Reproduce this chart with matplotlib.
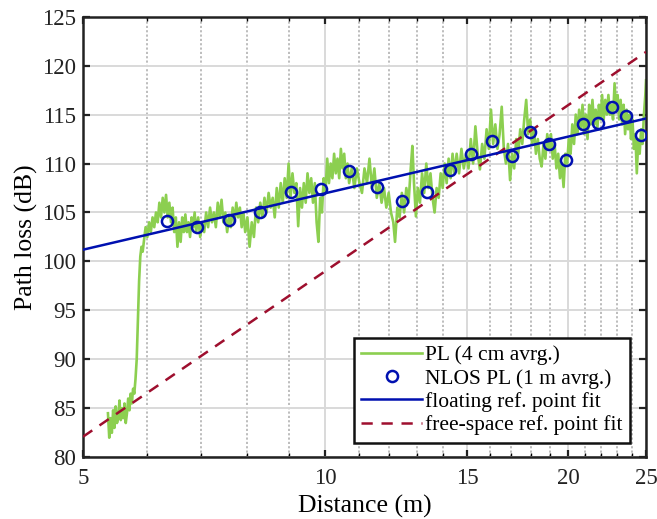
import matplotlib.pyplot as plt
from matplotlib.ticker import FixedLocator, NullFormatter, FixedFormatter

plt.rcParams["font.family"] = ["Liberation Serif", "DejaVu Serif"]

# PL with 4 cm averaging
pl_dist = [
    5.37, 5.39, 5.41, 5.43, 5.45, 5.47, 5.49, 5.51, 5.53, 5.55, 5.57, 5.59, 5.61, 5.63,
    5.65, 5.67, 5.69, 5.71, 5.73, 5.75, 5.77, 5.79, 5.81, 5.83, 5.85, 5.87, 5.89, 5.91,
    5.93, 5.95, 5.98, 6.01, 6.04, 6.07, 6.10, 6.13, 6.16, 6.19, 6.22, 6.25, 6.28, 6.31,
    6.34, 6.37, 6.40, 6.43, 6.46, 6.49, 6.52, 6.55, 6.58, 6.61, 6.64, 6.67, 6.70, 6.73,
    6.76, 6.79, 6.82, 6.85, 6.88, 6.91, 6.95, 6.99, 7.03, 7.07, 7.11, 7.15, 7.19, 7.23,
    7.27, 7.31, 7.35, 7.39, 7.43, 7.47, 7.51, 7.55, 7.59, 7.63, 7.67, 7.71, 7.75, 7.79,
    7.83, 7.87, 7.91, 7.95, 8.00, 8.05, 8.10, 8.15, 8.20, 8.25, 8.30, 8.35, 8.40, 8.45,
    8.50, 8.55, 8.60, 8.65, 8.70, 8.75, 8.80, 8.85, 8.90, 8.95, 9.00, 9.05, 9.10, 9.15,
    9.20, 9.25, 9.30, 9.35, 9.40, 9.45, 9.50, 9.55, 9.60, 9.65, 9.70, 9.75, 9.80, 9.85,
    9.90, 9.95, 10.00, 10.05, 10.10, 10.15, 10.20, 10.25, 10.30, 10.35, 10.40, 10.45,
    10.50, 10.55, 10.60, 10.65, 10.70, 10.78, 10.86, 10.94, 11.02, 11.10, 11.18, 11.26,
    11.34, 11.42, 11.50, 11.58, 11.66, 11.74, 11.82, 11.90, 11.98, 12.06, 12.14, 12.20,
    12.28, 12.36, 12.44, 12.52, 12.60, 12.68, 12.76, 12.82, 12.88, 12.95, 13.02, 13.10,
    13.18, 13.26, 13.34, 13.42, 13.50, 13.58, 13.66, 13.74, 13.82, 13.90, 13.98, 14.06,
    14.14, 14.22, 14.30, 14.38, 14.46, 14.55, 14.65, 14.75, 14.85, 14.95, 15.05, 15.15,
    15.25, 15.35, 15.45, 15.55, 15.65, 15.75, 15.85, 15.95, 16.05, 16.15, 16.25, 16.35,
    16.45, 16.55, 16.65, 16.75, 16.85, 16.95, 17.05, 17.15, 17.25, 17.35, 17.45, 17.55,
    17.65, 17.75, 17.85, 17.95, 18.05, 18.15, 18.25, 18.35, 18.45, 18.55, 18.65, 18.75,
    18.85, 18.95, 19.05, 19.15, 19.25, 19.35, 19.45, 19.55, 19.65, 19.75, 19.85, 19.95,
    20.05, 20.15, 20.25, 20.35, 20.45, 20.55, 20.65, 20.75, 20.85, 20.95, 21.05, 21.15,
    21.25, 21.35, 21.45, 21.55, 21.65, 21.75, 21.85, 21.95, 22.05, 22.15, 22.25, 22.35,
    22.45, 22.55, 22.65, 22.75, 22.85, 22.95, 23.05, 23.15, 23.25, 23.35, 23.45, 23.55,
    23.65, 23.75, 23.85, 23.95, 24.05, 24.15, 24.25, 24.35, 24.45, 24.55, 24.65, 24.75,
    24.85, 24.95, 25.00,
]
pl_4cm = [
    84.5, 82.0, 84.0, 82.5, 84.8, 83.0, 85.2, 83.5, 84.0, 85.8, 83.8, 85.0, 84.0, 85.5,
    83.5, 84.5, 86.0, 84.8, 86.5, 85.5, 87.0, 86.5, 88.0, 90.0, 94.0, 98.0, 100.5, 101.5,
    101.0, 102.0, 103.5, 102.5, 104.0, 103.0, 104.5, 103.5, 105.0, 104.0, 106.0, 104.5, 106.5, 105.0,
    106.8, 104.5, 106.0, 104.0, 105.5, 103.0, 104.5, 101.5, 104.0, 102.0, 104.5, 103.0, 104.8, 103.0,
    104.0, 102.5, 104.5, 103.5, 105.0, 103.0, 104.5, 102.5, 104.0, 103.0, 105.0, 103.5, 105.5, 104.0,
    105.0, 103.5, 106.0, 104.5, 106.3, 104.0, 105.0, 103.0, 104.5, 103.5, 105.5, 104.0, 106.0, 104.5,
    105.5, 103.5, 105.0, 103.0, 104.5, 101.5, 104.0, 102.5, 105.5, 104.0, 106.0, 104.5, 106.5, 105.0,
    107.0, 105.5, 106.5, 104.5, 107.5, 105.5, 108.0, 106.0, 108.5, 106.5, 110.0, 106.5, 109.0, 107.0,
    108.0, 103.6, 107.5, 105.5, 108.0, 106.0, 109.0, 107.0, 108.5, 106.0, 108.0, 104.0, 102.0, 106.5,
    105.0, 108.5, 107.0, 110.5, 108.0, 110.0, 108.5, 111.0, 109.0, 110.5, 108.5, 111.5,
    109.5, 111.0, 108.5, 110.0, 108.0, 109.5, 107.5, 109.5, 108.0, 107.0, 109.5, 108.0,
    110.5, 107.5, 109.5, 106.5, 108.0, 106.0, 107.5, 105.5, 107.0, 105.0, 104.0, 102.0,
    105.5, 104.5, 107.0, 105.0, 107.5, 106.0, 109.5, 111.8, 108.0, 104.6, 107.5, 106.0,
    109.0, 107.0, 110.0, 107.5, 109.0, 106.5, 105.0, 107.5, 106.5, 109.0, 107.5, 110.0,
    108.0, 110.5, 108.5, 111.0, 109.0, 111.0, 109.0, 111.5, 109.5, 111.0, 109.5, 112.5,
    110.0, 113.8, 111.0, 109.4, 112.0, 110.5, 113.5, 111.5, 115.5, 112.0, 114.0, 111.5,
    113.0, 115.8, 111.5, 110.0, 112.0, 108.3, 111.0, 109.5, 112.5, 111.0, 113.5, 112.0,
    114.5, 116.5, 113.0, 114.5, 112.0, 113.5, 111.0, 112.5, 110.5, 109.7, 112.0, 110.5,
    113.0, 111.5, 113.0, 110.5, 112.0, 109.5, 111.0, 108.5, 110.0, 107.6, 111.0, 110.0,
    112.5, 111.0, 114.0, 112.0, 115.0, 113.0, 115.5, 113.5, 116.0, 113.0, 115.0, 112.5,
    116.0, 114.0, 116.5, 114.0, 115.5, 113.5, 116.0, 114.5, 117.0, 114.5, 116.5, 115.0,
    117.0, 115.0, 116.0, 114.5, 118.2, 115.5, 117.0, 114.5, 116.5, 114.0, 116.0, 113.0,
    115.5, 113.5, 115.0, 112.5, 114.5, 111.5, 113.0, 109.0, 112.5, 111.0, 113.5, 112.0,
    115.0, 117.0, 118.5,
]

# NLOS PL with 1 m averaging
nlos_dist = [6.35, 6.92, 7.58, 8.29, 9.06, 9.86, 10.71, 11.58, 12.45, 13.36, 14.28,
             15.17, 16.08, 17.05, 17.96, 18.93, 19.87, 20.87, 21.78, 22.70, 23.63, 24.62]
nlos_pl = [104.1, 103.5, 104.2, 105.1, 107.1, 107.4, 109.2, 107.6, 106.2, 107.1, 109.3,
           111.0, 112.3, 110.8, 113.2, 112.0, 110.4, 114.0, 114.1, 115.8, 114.9, 112.9]

# fitted lines (end points)
fit_dist = [5, 25]
floating_fit = [101.2, 114.6]
freespace_fit = [82.1, 121.4]

x_ticks = [5, 10, 15, 20, 25]
x_minor = [6, 7, 8, 9, 11, 12, 13, 14, 16, 17, 18, 19, 21, 22, 23, 24]
y_ticks = [80, 85, 90, 95, 100, 105, 110, 115, 120, 125]

fig = plt.figure(figsize=(6.57, 5.19), dpi=100)
ax = fig.add_axes([0.1263, 0.1189, 0.857, 0.849])

ax.plot(pl_dist, pl_4cm, color="#8CCF50", linewidth=1.9, label="PL (4 cm avrg.)", zorder=2)
ax.plot(nlos_dist, nlos_pl, linestyle="none", marker="o", markersize=8, markerfacecolor="none",
        markeredgecolor="#0010B0", markeredgewidth=1.8, label="NLOS PL (1 m avrg.)", zorder=5)
ax.plot(fit_dist, floating_fit, color="#0010B0", linewidth=1.8,
        label="floating ref. point fit", zorder=4)
ax.plot(fit_dist, freespace_fit, color="#9E0F2E", linewidth=1.8, linestyle=(0, (4.5, 3.5)),
        label="free-space ref. point fit", zorder=3)

ax.set_xscale("log")
ax.set_xlim(5, 25)
ax.set_ylim(80, 125)
ax.xaxis.set_major_locator(FixedLocator(x_ticks))
ax.xaxis.set_major_formatter(FixedFormatter([str(t) for t in x_ticks]))
ax.xaxis.set_minor_locator(FixedLocator(x_minor))
ax.xaxis.set_minor_formatter(NullFormatter())
ax.set_yticks(y_ticks)

ax.grid(True, which="major", color="#d9d9d9", linewidth=1.4, linestyle="-", zorder=0)
ax.grid(True, which="minor", axis="x", color="#b8b8b8", linewidth=1.3, linestyle=(0, (1.2, 1.2)))
ax.set_axisbelow(True)

ax.tick_params(which="major", direction="in", length=5, width=1.6, top=True, right=True,
               labelsize=16.5, pad=5, colors="#222222")
ax.tick_params(axis="x", which="major", pad=8)
ax.tick_params(which="minor", direction="in", length=3, width=1.0, top=True, right=False)
for s in ax.spines.values():
    s.set_linewidth(1.8)
    s.set_color("#222222")

ax.set_xlabel("Distance (m)", fontsize=18.5, labelpad=4)
ax.set_ylabel("Path loss (dB)", fontsize=18.5, labelpad=3)

leg = ax.legend(loc="lower right", bbox_to_anchor=(0.9716, 0.033), borderaxespad=0,
                fontsize=15.5, frameon=True, fancybox=False, handlelength=2.8,
                handletextpad=0.15, borderpad=0.35, labelspacing=0.15)
leg.get_frame().set_edgecolor("#111111")
leg.get_frame().set_linewidth(1.8)
leg.get_frame().set_alpha(1)

fig.savefig("out.png", dpi=100)
